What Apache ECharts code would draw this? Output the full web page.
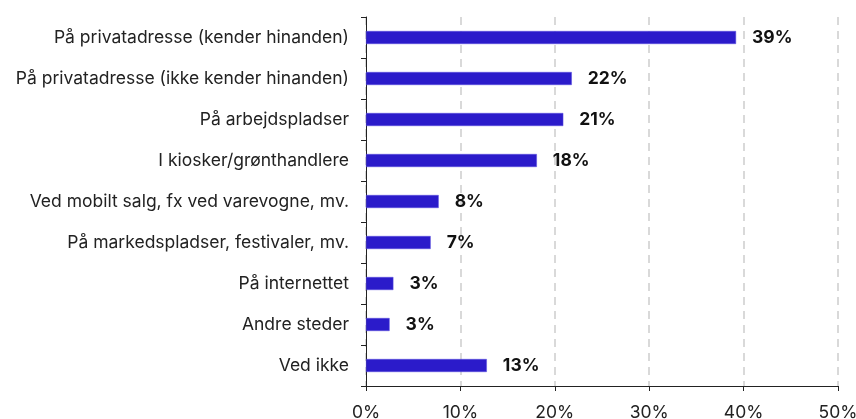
<!DOCTYPE html>
<html style="height: 100%">
<head>
    <meta charset="utf-8">
</head>
<body style="height: 100%; margin: 0; background: #fff">
    <div id="container" style="width: 856px; height: 419px"></div>
    <script src="https://cdn.jsdelivr.net/npm/echarts@6/dist/echarts.min.js"></script>
    <script type="text/javascript">
        // kategorier (top til bund)
        var categories = [
            'På privatadresse (kender hinanden)',
            'På privatadresse (ikke kender hinanden)',
            'På arbejdspladser',
            'I kiosker/grønthandlere',
            'Ved mobilt salg, fx ved varevogne, mv.',
            'På markedspladser, festivaler, mv.',
            'På internettet',
            'Andre steder',
            'Ved ikke'
        ];
        // bar-længder
        var values = [39.2, 21.8, 20.9, 18.1, 7.7, 6.85, 2.9, 2.5, 12.8];
        // tekst på barerne
        var labels = ['39%', '22%', '21%', '18%', '8%', '7%', '3%', '3%', '13%'];
        var xTicks = [0, 10, 20, 30, 40, 50];

        var myChart = echarts.init(document.getElementById('container'));

        var option = {
            animation: false,
            grid: {
                left: 366,
                right: 18,
                top: 17,
                bottom: 33,
                outerBoundsMode: 'none'
            },
            xAxis: {
                type: 'value',
                min: xTicks[0],
                max: xTicks[xTicks.length - 1],
                interval: 10,
                axisLine: { show: true, lineStyle: { color: '#222', width: 1 } },
                axisTick: { show: true, length: 5, lineStyle: { color: '#222' } },
                axisLabel: {
                    margin: 18,
                    fontFamily: 'Inter',
                    fontSize: 17.5,
                    color: '#222',
                    formatter: '{value}%'
                },
                splitLine: {
                    show: true,
                    lineStyle: { color: '#d9d9d9', width: 2, type: [8, 6] }
                }
            },
            yAxis: {
                type: 'category',
                inverse: true,
                data: categories,
                axisLine: { show: true, lineStyle: { color: '#222', width: 1 } },
                axisTick: { show: true, length: 5, lineStyle: { color: '#222' } },
                axisLabel: {
                    margin: 17,
                    fontFamily: 'Inter',
                    fontSize: 17.5,
                    color: '#222'
                }
            },
            series: [{
                type: 'bar',
                data: values,
                barWidth: 13,
                itemStyle: {
                    color: '#2B1BCA',
                    borderColor: '#5a4ee0',
                    borderWidth: 0.5
                },
                label: {
                    show: true,
                    position: 'right',
                    distance: 16,
                    fontFamily: 'Inter',
                    fontWeight: 'bold',
                    fontSize: 17.5,
                    color: '#111',
                    formatter: function (p) {
                        return labels[p.dataIndex];
                    }
                }
            }]
        };

        myChart.setOption(option);
    </script>
</body>
</html>
